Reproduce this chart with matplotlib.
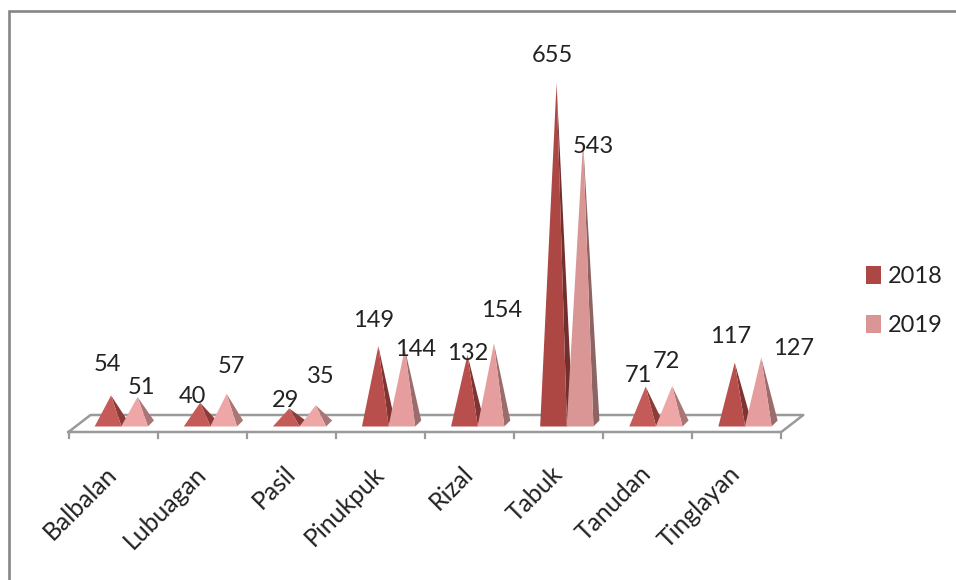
import matplotlib
matplotlib.use('Agg')
import matplotlib.pyplot as plt
from matplotlib.patches import Patch, Polygon

plt.rcParams['font.family'] = ['Lato', 'DejaVu Sans']

# data
municipalities = ['Balbalan', 'Lubuagan', 'Pasil', 'Pinukpuk', 'Rizal', 'Tabuk', 'Tanudan', 'Tinglayan']
values_2018 = [54, 40, 29, 149, 132, 655, 71, 117]
values_2019 = [51, 57, 35, 144, 154, 543, 72, 127]

# hand placed data labels, pixels away from the tip
label_shift_2018 = [(-4, 31), (-8, 6), (-4, 8), (-5, 26), (0, 1), (-4, 27), (-7, 11), (-4, 26)]
label_shift_2019 = [(4, 9), (5, 27), (5, 29), (11, -1), (8, 33), (10, -5), (-6, 25), (32, 9)]

# size of the picture and scale of the chart in pixels
W, H = 956, 580
X0, X_STEP = 68.5, 89.1
Y0, Y_SCALE = 423.5, 0.52

FONT = 17
GRID = '#9a9a9a'
FRAME = '#868686'

# front and side shades, short pyramids come out lighter in the original
SHADES_2018 = [('#c55b58', '#8c3b39'), ('#b94f4c', '#7f3432'), ('#ac4744', '#712f2d')]
SHADES_2019 = [('#eea6a7', '#a97575'), ('#e59d9d', '#9c6c6c'), ('#d99695', '#8e6463')]


def px_x(n):
    return n / X_STEP


def px_y(n):
    return n / Y_SCALE


def pick_shade(shades, value):
    if value < 100:
        return shades[0]
    if value < 300:
        return shades[1]
    return shades[2]


def draw_pyramid(ax, x, value, front, side):
    half = px_x(13.4)
    dx = px_x(3)
    dy = px_y(3)
    tip = (x + dx, value)
    left = (x - half, -dy)
    right = (x + half, -dy)
    back = (x + half + 2 * dx, dy)
    ax.add_patch(Polygon([right, back, tip], closed=True, fc=side, ec='none', zorder=3))
    ax.add_patch(Polygon([left, right, tip], closed=True, fc=front, ec='none', zorder=4))
    return tip


fig = plt.figure(figsize=(W / 100, H / 100), dpi=100)
ax = fig.add_axes([0, 0, 1, 1])
ax.set_xlim(-X0 / X_STEP, (W - X0) / X_STEP)
ax.set_ylim((Y0 - H) / Y_SCALE, Y0 / Y_SCALE)
ax.axis('off')

# frame of the pasted chart
ax.plot([8.5 / W, 8.5 / W, 1], [0, 1 - 10.5 / H, 1 - 10.5 / H], transform=ax.transAxes,
        color=FRAME, lw=1.9, solid_joinstyle='miter', clip_on=False)

# floor
n = len(municipalities)
front_y = (Y0 - 432) / Y_SCALE
back_y = (Y0 - 415) / Y_SCALE
skew = px_x(22)
ax.plot([0, n, n + skew, skew, 0], [front_y, front_y, back_y, back_y, front_y], color=GRID, lw=1.8, zorder=1)
for i in range(n + 1):
    ax.plot([i, i], [front_y, front_y - px_y(6)], color=GRID, lw=1.6, zorder=1)

# pyramids, 2018 sits behind 2019
series = [
    (values_2018, -0.0561, SHADES_2018, label_shift_2018),
    (values_2019, 0.2413, SHADES_2019, label_shift_2019),
]
for vals, offset, shades, shifts in series:
    for i, v in enumerate(vals):
        front, side = pick_shade(shades, v)
        tip = draw_pyramid(ax, i + 0.5 + offset, v, front, side)
        ax.annotate(str(v), xy=tip, xytext=shifts[i], textcoords='offset pixels',
                    ha='center', va='center', fontsize=FONT, color='#222222', zorder=6)

# category labels
for i, name in enumerate(municipalities):
    ax.annotate(name, xy=(i + 0.5, front_y), xytext=(0, -38), textcoords='offset pixels',
                rotation=45, rotation_mode='anchor', ha='right', va='center',
                fontsize=17.8, color='#222222')

handles = [Patch(fc='#ac4744', ec='none'), Patch(fc='#d99695', ec='none')]
ax.legend(handles, ['2018', '2019'], loc='center left', bbox_to_anchor=(847 / W, 1 - 301 / H),
          frameon=False, prop={'size': FONT}, handlelength=0.65, handleheight=0.8, handletextpad=0.3,
          labelspacing=1.15, borderpad=0.3, labelcolor='#222222')

fig.savefig('out.png', dpi=100)
